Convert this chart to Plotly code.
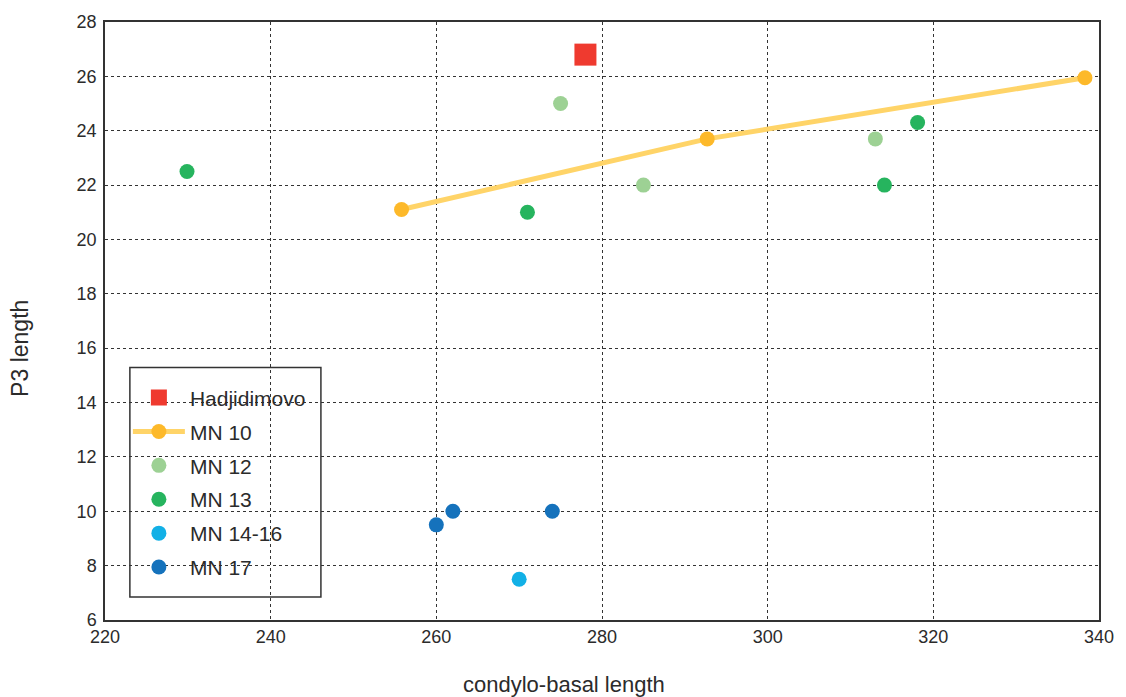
import plotly.graph_objects as go

# Data
hadj_x = [278.0]
hadj_y = [26.8]

mn10_x = [255.8, 292.7, 338.3]
mn10_y = [21.1, 23.7, 25.95]

mn12_x = [275.0, 285.0, 313.0]
mn12_y = [25.0, 22.0, 23.7]

mn13_x = [229.9, 271.0, 314.1, 318.1]
mn13_y = [22.5, 21.0, 22.0, 24.3]

mn1416_x = [270.0]
mn1416_y = [7.5]

mn17_x = [260.0, 262.0, 274.0]
mn17_y = [9.5, 10.0, 10.0]

x_ticks = [220, 240, 260, 280, 300, 320, 340]
y_ticks = [6, 8, 10, 12, 14, 16, 18, 20, 22, 24, 26, 28]

FONT = "Liberation Sans, Arial, Helvetica, sans-serif"
TXT = "#2b2b2b"

L, R, T, B = 105, 22, 21, 77
W, H = 1126, 697
PW, PH = W - L - R, H - T - B


def px_x(p):
    return (p - L) / PW


def px_y(p):
    return (H - B - p) / PH


fig = go.Figure()
fig.add_trace(go.Scatter(x=hadj_x, y=hadj_y, mode="markers", name="Hadjidimovo", legendgroup="a",
                         marker=dict(symbol="square", size=22, color="#EF3A2F")))
fig.add_trace(go.Scatter(x=mn10_x, y=mn10_y, mode="lines+markers", name="MN 10", legendgroup="b",
                         line=dict(color="#FFD468", width=5),
                         marker=dict(size=15, color="#FDB92A")))
fig.add_trace(go.Scatter(x=mn12_x, y=mn12_y, mode="markers", name="MN 12", legendgroup="c",
                         marker=dict(size=15, color="#9DD194")))
fig.add_trace(go.Scatter(x=mn13_x, y=mn13_y, mode="markers", name="MN 13", legendgroup="d",
                         marker=dict(size=15, color="#26B45E")))
fig.add_trace(go.Scatter(x=mn1416_x, y=mn1416_y, mode="markers", name="MN 14-16", legendgroup="e",
                         marker=dict(size=15, color="#12B0E6")))
fig.add_trace(go.Scatter(x=mn17_x, y=mn17_y, mode="markers", name="MN 17", legendgroup="f",
                         marker=dict(size=15, color="#1572BC")))

axis_common = dict(
    showgrid=True, gridcolor="#333333", griddash="dot", gridwidth=1,
    showline=True, linecolor="#333333", linewidth=1.5, mirror=True,
    zeroline=False, ticks="", tickfont=dict(family=FONT, size=18, color=TXT),
)

fig.update_xaxes(range=[220, 340], tickvals=x_ticks, ticklabelstandoff=0, **axis_common)
fig.update_yaxes(range=[6, 28], tickvals=y_ticks, ticklabelstandoff=3, **axis_common)

fig.update_layout(
    width=W, height=H,
    margin=dict(l=L, r=R, t=T, b=B),
    plot_bgcolor="white", paper_bgcolor="white",
    font=dict(family=FONT, color=TXT),
    legend=dict(
        x=px_x(128), y=px_y(377), xanchor="left", yanchor="top",
        bgcolor="rgba(0,0,0,0)", borderwidth=0,
        font=dict(family=FONT, size=21, color=TXT),
        itemwidth=52, tracegroupgap=3.6,
    ),
    shapes=[
        dict(type="rect", xref="paper", yref="paper", layer="below",
             x0=px_x(130), x1=px_x(322), y0=px_y(597), y1=px_y(367),
             fillcolor="white", line=dict(color="#333333", width=1.5)),
    ],
    annotations=[
        dict(text="condylo-basal length", xref="paper", yref="paper",
             x=px_x(566), y=px_y(685), xanchor="center", yanchor="middle",
             showarrow=False, font=dict(family=FONT, size=22, color=TXT)),
        dict(text="P3 length", xref="paper", yref="paper",
             x=px_x(20), y=px_y(348), xanchor="center", yanchor="middle",
             textangle=-90, showarrow=False, font=dict(family=FONT, size=23, color=TXT)),
    ],
)

fig.write_html("out.html")
